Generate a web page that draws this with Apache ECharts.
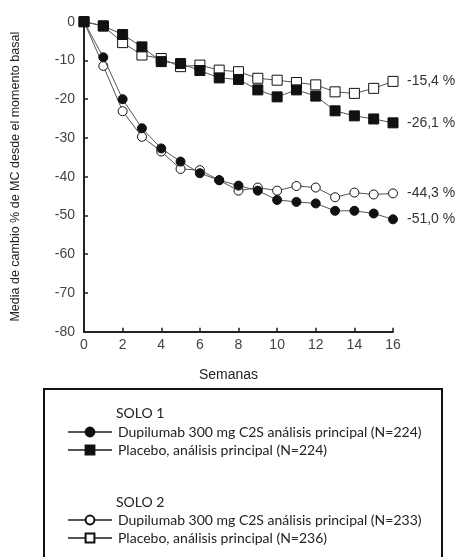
<!DOCTYPE html>
<html><head><meta charset="utf-8">
<script src="https://cdn.jsdelivr.net/npm/echarts@6/dist/echarts.min.js"></script>
<style>html,body{margin:0;padding:0;background:#fff}#c{width:460px;height:557px}</style>
</head><body><div id="c"></div>
<script>
const weeks = [0,1,2,3,4,5,6,7,8,9,10,11,12,13,14,15,16];
const solo1Dupi = [0,-9.2,-20.0,-27.5,-32.7,-36.1,-39.1,-40.9,-42.3,-43.6,-46.0,-46.5,-46.9,-48.8,-48.8,-49.5,-51.0];
const solo1Plac = [0,-1.1,-3.3,-6.5,-10.3,-10.8,-12.6,-14.5,-14.9,-17.6,-19.4,-17.6,-19.2,-23.0,-24.3,-25.1,-26.1];
const solo2Dupi = [0,-11.4,-23.1,-29.7,-33.5,-38.0,-38.3,-40.9,-43.6,-42.8,-43.6,-42.4,-42.8,-45.3,-44.1,-44.6,-44.3];
const solo2Plac = [0,-1.1,-5.4,-8.6,-9.5,-11.6,-11.2,-12.5,-12.9,-14.6,-15.1,-15.7,-16.3,-18.1,-18.5,-17.2,-15.4];
const names = {
  d1: 'Dupilumab 300 mg C2S análisis principal (N=224)',
  p1: 'Placebo, análisis principal (N=224)',
  d2: 'Dupilumab 300 mg C2S análisis principal (N=233)',
  p2: 'Placebo, análisis principal (N=236)'
};
const groupTitles = ['SOLO 1','SOLO 2'];
const yTitle = 'Media de cambio % de MC desde el momento basal';
const xTitle = 'Semanas';

const pair = arr => arr.map((v,i)=>[weeks[i], v]);
const fmt = p => p.value[1].toFixed(1).replace('.', ',') + ' %';
function mk(name, data, symbol, filled, z){
  return {
    name, type:'line', data: pair(data), symbol, z,
    symbolSize: symbol==='circle' ? 9 : 10,
    lineStyle:{color:'#555', width:1},
    itemStyle:{color: filled ? '#111' : '#fff', borderColor:'#111', borderWidth:1},
    emphasis:{disabled:true},
    endLabel:{show:true, formatter: fmt, distance:14, color:'#333', fontFamily:'Liberation Sans', fontSize:14}
  };
}
const legendText = {fontFamily:'Lato', fontSize:14, lineHeight:16, color:'#222', padding:[0,0,0,1]};
const chart = echarts.init(document.getElementById('c'));
chart.setOption({
  animation:false,
  backgroundColor:'#fff',
  grid:{left:84, right:67, top:21.7, bottom:225.3, containLabel:false},
  xAxis:{type:'value', min:0, max:16, interval:2,
    name:xTitle, nameLocation:'middle', nameGap:36,
    nameTextStyle:{fontFamily:'Liberation Sans', fontSize:14, color:'#222', padding:[0,20,0,0]},
    axisLine:{onZero:false, lineStyle:{color:'#222', width:2}},
    axisTick:{inside:true, length:4, lineStyle:{color:'#222', width:1.5}},
    axisLabel:{fontFamily:'Liberation Sans', fontSize:14, color:'#444', margin:6},
    splitLine:{show:false}},
  yAxis:{type:'value', min:-80, max:0, interval:10,
    name:yTitle, nameLocation:'middle', nameGap:62, nameRotate:90,
    nameTextStyle:{fontFamily:'Liberation Sans', fontSize:12.5, color:'#222'},
    axisLine:{show:true, onZero:false, lineStyle:{color:'#222', width:2}},
    axisTick:{show:true, inside:true, length:4, lineStyle:{color:'#222', width:1.5}},
    axisLabel:{fontFamily:'Liberation Sans', fontSize:14, color:'#444', margin:9},
    splitLine:{show:false}},
  legend:[
    {data:[names.d1, names.p1], left:62, top:419, orient:'vertical', itemWidth:44, itemHeight:11, itemGap:2,
     selectedMode:false, textStyle:legendText},
    {data:[names.d2, names.p2], left:62, top:507, orient:'vertical', itemWidth:44, itemHeight:11, itemGap:2,
     selectedMode:false, textStyle:legendText}
  ],
  graphic:[
    {type:'rect', shape:{x:44, y:389, width:398, height:200}, style:{fill:'none', stroke:'#111', lineWidth:2}, silent:true},
    {type:'text', left:116, top:406, style:{text:groupTitles[0], fontFamily:'Lato', fontSize:14, fill:'#222'}},
    {type:'text', left:116, top:495, style:{text:groupTitles[1], fontFamily:'Lato', fontSize:14, fill:'#222'}}
  ],
  series:[
    mk(names.d2, solo2Dupi, 'circle', false, 2),
    mk(names.p2, solo2Plac, 'rect', false, 2),
    mk(names.d1, solo1Dupi, 'circle', true, 3),
    mk(names.p1, solo1Plac, 'rect', true, 3)
  ]
});
</script></body></html>
